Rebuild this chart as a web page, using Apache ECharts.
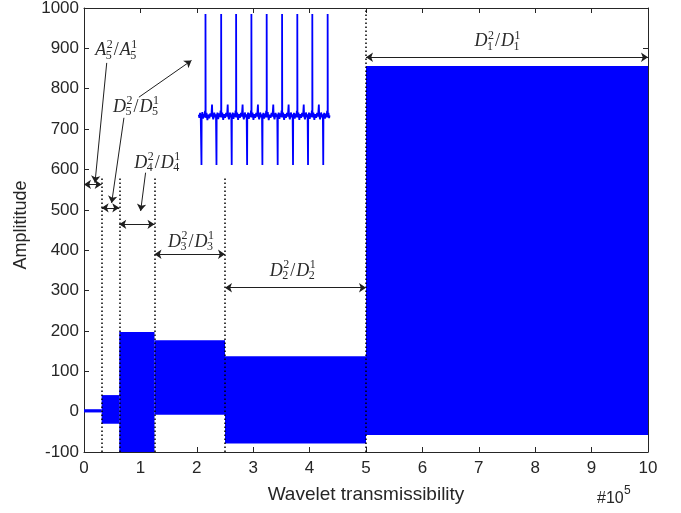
<!DOCTYPE html>
<html>
<head>
<meta charset="utf-8">
<script src="https://cdn.jsdelivr.net/npm/echarts@6/dist/echarts.min.js"></script>
<style>
  html, body { margin: 0; padding: 0; background: #fff; }
  #chart { width: 681px; height: 513px; }
</style>
</head>
<body>
<div id="chart"></div>
<script>
// Sub-band segments of the transmitted signal (x in units of 1e5 samples)
const bandStart = [0, 0.3125, 0.625, 1.25, 2.5, 5];
const bandEnd   = [0.3125, 0.625, 1.25, 2.5, 5, 10];
// Envelope of each oscillating segment
const bandHigh  = [6, 41, 197, 177, 137, 856];
const bandLow   = [-2, -30, -115, -8, -79, -58];

// Axis ticks
const xTicks = [0, 1, 2, 3, 4, 5, 6, 7, 8, 9, 10];
const yTicks = [-100, 0, 100, 200, 300, 400, 500, 600, 700, 800, 900, 1000];

// Dotted boundaries between sub-bands
const boundaryX   = [0.3125, 0.625, 1.25, 2.5, 5];
const boundaryTop = [583, 583, 583, 583, 1000];

// Double-headed span arrows (one per sub-band)
const spanY = [563, 505, 464, 390, 307, 878];

// Ratio labels  X_n^2 / X_n^1
const labelBase  = ['A', 'D', 'D', 'D', 'D', 'D'];
const labelLevel = ['5', '5', '4', '3', '2', '1'];
const labelX     = [0.579, 0.933, 1.306, 1.906, 3.71, 7.34];
const labelY     = [895, 754, 616, 420, 348, 917];

// Single-headed leader arrows: [x0, y0, x1, y1]
const leaders = [
  [0.403, 864, 0.195, 567],
  [0.708, 728, 0.490, 517],
  [0.973, 779, 1.906, 870],
  [1.092, 592, 1.004, 497]
];

// Magnified view of the D5 segment (spike train)
const insetPts = [
  [2.035,736],[2.045,728],[2.058,740],[2.070,730],
  [2.083,733],[2.083,611],[2.086,728],[2.098,742],[2.110,726],[2.122,738],[2.136,729],[2.146,745],
  [2.154,733],[2.154,985],[2.157,728],[2.172,740],[2.188,722],[2.205,736],[2.222,727],[2.240,739],[2.258,731],[2.270,761],[2.276,734],[2.292,724],[2.310,741],[2.326,729],[2.340,737],
  [2.349,733],[2.349,611],[2.352,727],[2.366,741],[2.380,725],[2.395,739],[2.410,730],[2.422,746],
  [2.432,733],[2.432,985],[2.435,729],[2.452,741],[2.468,723],[2.485,737],[2.502,728],[2.520,740],[2.536,731],[2.548,761],[2.554,734],[2.570,724],[2.588,741],[2.603,729],[2.612,737],
  [2.619,733],[2.619,611],[2.622,727],[2.636,741],[2.650,725],[2.664,739],[2.678,730],[2.688,746],
  [2.697,733],[2.697,985],[2.700,729],[2.716,741],[2.732,723],[2.748,737],[2.764,728],[2.782,740],[2.798,731],[2.812,761],[2.818,734],[2.834,724],[2.852,741],[2.870,729],[2.884,737],
  [2.892,733],[2.892,611],[2.895,727],[2.909,741],[2.923,725],[2.937,739],[2.950,730],[2.960,746],
  [2.968,733],[2.968,985],[2.971,729],[2.988,741],[3.004,723],[3.020,737],[3.036,728],[3.054,740],[3.070,731],[3.084,761],[3.090,734],[3.106,724],[3.124,741],[3.142,729],[3.156,737],
  [3.163,733],[3.163,611],[3.166,728],[3.180,740],[3.194,726],[3.208,738],[3.220,729],[3.230,745],
  [3.239,733],[3.239,985],[3.242,729],[3.258,742],[3.275,722],[3.292,736],[3.308,728],[3.326,740],[3.342,731],[3.356,761],[3.362,734],[3.378,724],[3.396,740],[3.414,730],[3.427,737],
  [3.434,733],[3.434,611],[3.437,727],[3.451,741],[3.465,725],[3.479,739],[3.492,730],[3.503,746],
  [3.512,733],[3.512,985],[3.515,729],[3.531,741],[3.548,723],[3.565,737],[3.581,728],[3.598,740],[3.614,731],[3.628,761],[3.634,734],[3.650,724],[3.668,741],[3.686,729],[3.699,737],
  [3.706,733],[3.706,611],[3.709,728],[3.723,740],[3.737,726],[3.751,738],[3.764,729],[3.774,745],
  [3.782,733],[3.782,985],[3.785,729],[3.801,741],[3.818,723],[3.834,737],[3.850,728],[3.867,740],[3.883,731],[3.896,761],[3.902,734],[3.918,724],[3.935,741],[3.952,729],[3.965,737],
  [3.972,733],[3.972,611],[3.975,727],[3.989,741],[4.003,725],[4.017,739],[4.030,730],[4.040,746],
  [4.048,733],[4.048,985],[4.051,729],[4.067,741],[4.084,723],[4.100,737],[4.117,728],[4.134,740],[4.150,731],[4.164,761],[4.170,734],[4.186,724],[4.204,741],[4.222,729],[4.235,737],
  [4.242,733],[4.242,611],[4.245,728],[4.259,740],[4.273,726],[4.287,738],[4.300,729],[4.311,745],
  [4.320,733],[4.320,985],[4.323,729],[4.334,740],[4.346,727],[4.354,734]
];

const AXIS_COLOR = '#262626';
const INK = '#1f1f1f';
const BLUE = '#0000ff';
const SANS = '"Liberation Sans", Arial, Helvetica, sans-serif';
const SERIF = '"Liberation Serif", "Times New Roman", serif';

const chart = echarts.init(document.getElementById('chart'), null, { renderer: 'canvas' });

// Text measuring for the math-style labels
const measureCtx = document.createElement('canvas').getContext('2d');
function textWidth(str, font) {
  measureCtx.font = font;
  return measureCtx.measureText(str).width;
}
const baseFont = 'italic 18px ' + SERIF;
const scriptFont = '12px ' + SERIF;
const slashFont = '18px ' + SERIF;

// Builds X_n^2/X_n^1 as a group of text pieces centred on (cx, cy)
function mathLabel(cx, cy, base, level) {
  const pieces = [];
  let x = 0;
  const addScripted = (sup) => {
    pieces.push({ t: base, font: baseFont, x: x, dy: 0 });
    x += textWidth(base, baseFont) + 0.5;
    pieces.push({ t: sup, font: scriptFont, x: x, dy: -6 });
    pieces.push({ t: level, font: scriptFont, x: x - 1, dy: 5 });
    x += Math.max(textWidth(sup, scriptFont), textWidth(level, scriptFont)) + 1;
  };
  addScripted('2');
  pieces.push({ t: '/', font: slashFont, x: x, dy: 0 });
  x += textWidth('/', slashFont) + 1;
  addScripted('1');
  const total = x;
  return {
    type: 'group',
    x: cx - total / 2,
    y: cy,
    children: pieces.map(p => ({
      type: 'text',
      style: {
        text: p.t, x: p.x, y: p.dy, font: p.font, fill: '#2a2a2a',
        align: 'left', verticalAlign: 'middle'
      }
    }))
  };
}

const bandData = bandStart.map((s, i) => [s, bandEnd[i], bandLow[i], bandHigh[i]]);
const boundaryData = boundaryX.map((x, i) => ({ coords: [[x, -100], [x, boundaryTop[i]]] }));
const spanData = bandStart.map((s, i) => ({ coords: [[s, spanY[i]], [bandEnd[i], spanY[i]]] }));
const leaderData = leaders.map(l => ({ coords: [[l[0], l[1]], [l[2], l[3]]] }));
const labelData = labelX.map((x, i) => [x, labelY[i], i]);

const axisCommon = {
  type: 'value',
  splitLine: { show: false },
  axisLine: { show: true, onZero: false, lineStyle: { color: AXIS_COLOR, width: 1 } },
  axisTick: { show: true, inside: true, length: 5, lineStyle: { color: AXIS_COLOR, width: 1 } }
};

chart.setOption({
  animation: false,
  backgroundColor: '#fff',
  grid: { left: 84, right: 33, top: 8, bottom: 61, outerBoundsMode: 'none' },
  xAxis: [
    Object.assign({}, axisCommon, {
      min: xTicks[0], max: xTicks[xTicks.length - 1], interval: 1,
      position: 'bottom',
      name: 'Wavelet transmissibility',
      nameLocation: 'middle', nameGap: 33,
      nameTextStyle: { fontFamily: SANS, fontSize: 19, color: AXIS_COLOR },
      axisLabel: { fontFamily: SANS, fontSize: 17, color: AXIS_COLOR, margin: 8,
                   formatter: v => String(v) }
    }),
    Object.assign({}, axisCommon, {
      min: xTicks[0], max: xTicks[xTicks.length - 1], interval: 1,
      position: 'top', axisLabel: { show: false }
    })
  ],
  yAxis: [
    Object.assign({}, axisCommon, {
      min: yTicks[0], max: yTicks[yTicks.length - 1], interval: 100,
      position: 'left',
      name: 'Amplititude',
      nameLocation: 'middle', nameGap: 48, nameRotate: 90,
      nameTextStyle: { fontFamily: SANS, fontSize: 18, color: AXIS_COLOR, padding: [0, 0, 0, 10] },
      axisLabel: { fontFamily: SANS, fontSize: 17, color: AXIS_COLOR, margin: 5,
                   formatter: v => String(v) }
    }),
    Object.assign({}, axisCommon, {
      min: yTicks[0], max: yTicks[yTicks.length - 1], interval: 100,
      position: 'right', axisLabel: { show: false }
    })
  ],
  graphic: [
    { type: 'text', left: 597, top: 491,
      style: { text: '#10', font: '16px ' + SANS, fill: AXIS_COLOR } },
    { type: 'text', left: 624, top: 485,
      style: { text: '5', font: '12px ' + SANS, fill: AXIS_COLOR } }
  ],
  series: [
    {
      // dense signal drawn as its envelope per sub-band
      type: 'custom',
      coordinateSystem: 'cartesian2d',
      z: 2,
      data: bandData,
      encode: { x: [0, 1], y: [2, 3] },
      renderItem: function (params, api) {
        const p0 = api.coord([api.value(0), api.value(3)]);
        const p1 = api.coord([api.value(1), api.value(2)]);
        const cs = params.coordSys;
        const rect = echarts.graphic.clipRectByRect(
          { x: p0[0], y: p0[1], width: p1[0] - p0[0], height: p1[1] - p0[1] },
          { x: cs.x, y: cs.y, width: cs.width, height: cs.height }
        );
        if (!rect) return null;
        return { type: 'rect', shape: rect, style: { fill: BLUE } };
      }
    },
    {
      type: 'line',
      z: 3,
      data: insetPts,
      showSymbol: false,
      symbol: 'none',
      lineStyle: { color: BLUE, width: 1.8 },
      clip: true
    },
    {
      type: 'lines',
      coordinateSystem: 'cartesian2d',
      z: 4,
      data: boundaryData,
      symbol: ['none', 'none'],
      lineStyle: { color: '#000', width: 1.5, type: [1.5, 2.5], opacity: 1 }
    },
    {
      type: 'lines',
      coordinateSystem: 'cartesian2d',
      z: 5,
      data: spanData,
      symbol: ['arrow', 'arrow'],
      symbolSize: [7, 7],
      lineStyle: { color: INK, width: 1, opacity: 1 },
      itemStyle: { color: INK }
    },
    {
      type: 'lines',
      coordinateSystem: 'cartesian2d',
      z: 5,
      data: leaderData,
      symbol: ['none', 'arrow'],
      symbolSize: [7, 7],
      lineStyle: { color: INK, width: 1, opacity: 1 },
      itemStyle: { color: INK }
    },
    {
      type: 'custom',
      coordinateSystem: 'cartesian2d',
      z: 6,
      clip: false,
      data: labelData,
      renderItem: function (params, api) {
        const i = api.value(2);
        const p = api.coord([api.value(0), api.value(1)]);
        return mathLabel(p[0], p[1], labelBase[i], labelLevel[i]);
      }
    }
  ]
});
</script>
</body>
</html>
